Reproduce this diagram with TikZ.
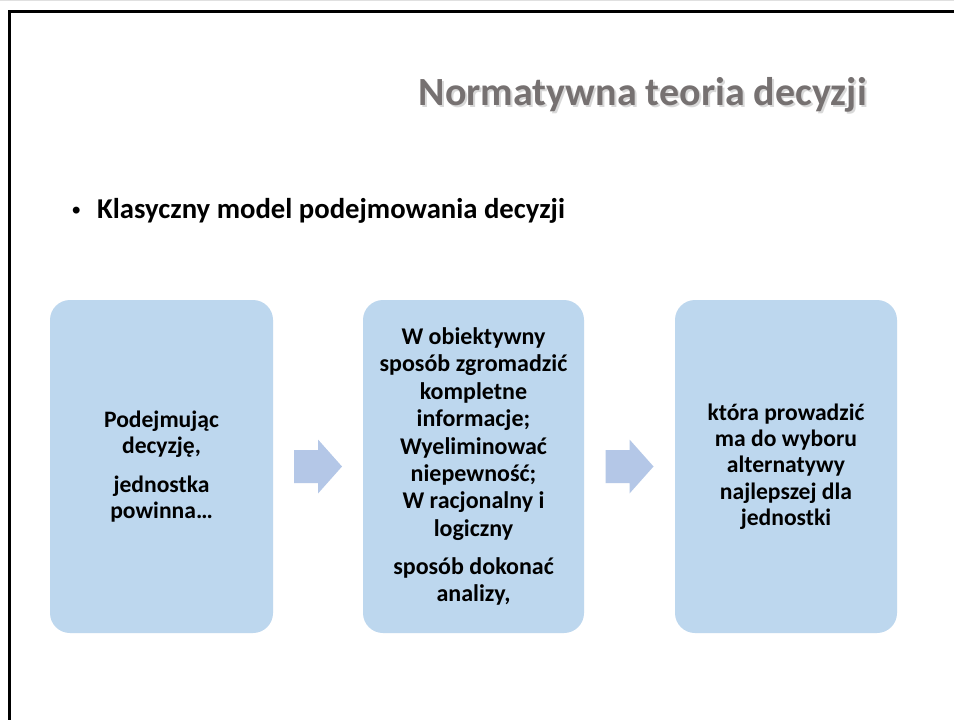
\documentclass[tikz,border=0pt]{standalone}
\usepackage{fontspec}
\setmainfont{Carlito}
\newfontfamily\bulletfont{Liberation Sans}
\usetikzlibrary{calc}
\definecolor{boxfill}{RGB}{189,215,238}
\definecolor{arrowfill}{RGB}{180,199,231}
\definecolor{titlegray}{RGB}{118,113,113}
\tikzset{
  stagebox/.style={fill=boxfill, rounded corners=20pt, minimum height=333pt, inner sep=0pt, align=center, text=black},
  blockarrow/.style={fill=arrowfill},
  titletext/.style={font=\fontsize{40}{48}\selectfont\bfseries, inner sep=0pt, anchor=base east},
  subtext/.style={inner sep=0pt, anchor=base west, font=\fontsize{28.7}{34}\selectfont\bfseries},
}
\begin{document}
\begin{tikzpicture}[x=1pt,y=-1pt]
\useasboundingbox (0,0) rectangle (954,720);
\fill[white] (0,0) rectangle (954,720);
\draw[black!12, line width=1pt] (0,0.5) -- (954,0.5);
\draw[black, line width=3pt] (9.5,720) -- (9.5,11.5) -- (954,11.5);
% title with shadow
\node[titletext, text=black!25, opacity=0.6] (titleshadow) at (869,107) {Normatywna teoria decyzji};
\node[titletext, text=titlegray] (title) at (867,105) {Normatywna teoria decyzji};
% bullet
\node[inner sep=0pt, anchor=base west, font=\fontsize{24}{30}\selectfont\bulletfont\bfseries] (bullet) at (72,218) {•};
\node[subtext] (subtitle) at (97,218) {Klasyczny model podejmowania decyzji};
% boxes
\node[stagebox, minimum width=223pt, font=\fontsize{23.6}{25.5}\selectfont\bfseries] (b1) at (161.5,466.5)
  {Podejmując\\decyzję,\\[14pt]jednostka\\powinna…};
\node[stagebox, minimum width=221pt, font=\fontsize{24}{27.4}\selectfont\bfseries] (b2) at (473.5,466.5)
  {W obiektywny\\sposób zgromadzić\\kompletne\\informacje;\\Wyeliminować\\niepewność;\\W racjonalny i\\logiczny\\[10.6pt]sposób dokonać\\analizy,};
\node[stagebox, minimum width=222pt, font=\fontsize{23.6}{26.3}\selectfont\bfseries] (b3) at (786,466.5)
  {która prowadzić\\ma do wyboru\\alternatywy\\najlepszej dla\\jednostki};
% block arrows between boxes
\coordinate (a1) at ($(b1.east)!0.5!(b2.west)$);
\coordinate (a2) at ($(b2.east)!0.5!(b3.west)$);
\foreach \c in {a1,a2}{
  \fill[blockarrow] ($(\c)+(-24,-16.5)$) -- ($(\c)+(0,-16.5)$) -- ($(\c)+(0,-27)$) -- ($(\c)+(24,0)$) -- ($(\c)+(0,27)$) -- ($(\c)+(0,16.5)$) -- ($(\c)+(-24,16.5)$) -- cycle;
}
\end{tikzpicture}
\end{document}
